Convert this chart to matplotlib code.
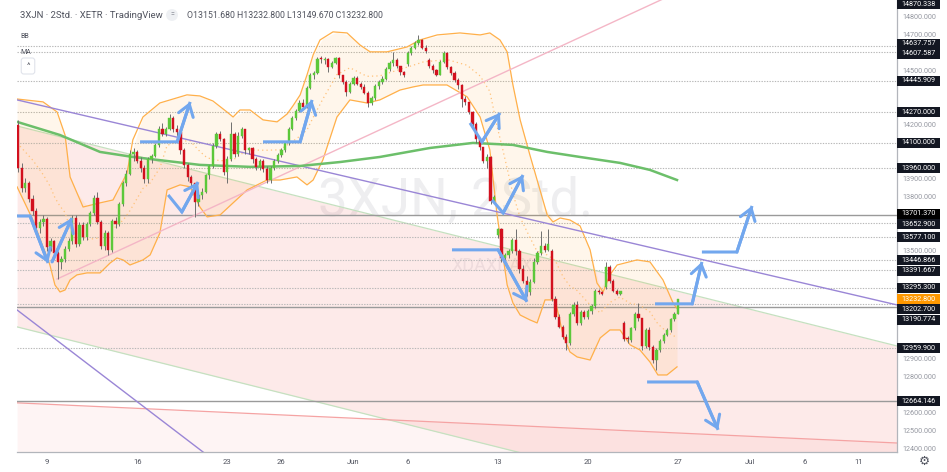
import numpy as np
import matplotlib
matplotlib.use("Agg")
import matplotlib.pyplot as plt
from matplotlib.patches import Rectangle
from matplotlib.transforms import blended_transform_factory

plt.rcParams['font.family'] = ['Roboto', 'DejaVu Sans']

# 2h bars on XETR, 5 bars per trading day, bar 0 = first bar of 9 May
first_bar = -8
opens = [14200, 13960, 13850,
         13880, 13790, 13720, 13630, 13660,
         13680, 13520, 13555, 13490, 13440,
         13455, 13510, 13555, 13685, 13540,
         13645, 13580, 13650, 13710, 13795,
         13660, 13525, 13600, 13505, 13665,
         13650, 13760, 13880, 13930, 14040,
         14050, 14000, 13960, 13900, 14010,
         14030, 14090, 14180, 14150, 14180,
         14240, 14175, 14160, 14060, 13980,
         13910, 13875, 13770, 13810, 13830,
         13920, 13970, 14085, 14150, 14120,
         13940, 14010, 14150, 14040, 14140,
         14175, 14060, 14070, 14010, 13965,
         14000, 13955, 13895, 13960, 14000,
         14035, 14060, 14100, 14180, 14240,
         14280, 14320, 14300, 14405, 14480,
         14490, 14565, 14560, 14565, 14520,
         14545, 14570, 14475, 14440, 14385,
         14430, 14460, 14430, 14410, 14380,
         14320, 14350, 14415, 14440, 14455,
         14510, 14545, 14560, 14525, 14495,
         14540, 14600, 14630, 14655, 14670,
         14630, 14560, 14525, 14505, 14480,
         14550, 14600, 14520, 14490, 14450,
         14420, 14345, 14325, 14270, 14205,
         14120, 14075, 14000, 14020, 13775,
         13590, 13620, 13460, 13480, 13500,
         13560, 13500, 13400, 13335, 13270,
         13330, 13440, 13490, 13530, 13505,
         13500, 13235, 13135, 13080, 13020,
         12990, 13150, 13200, 13100, 13160,
         13135, 13165, 13195, 13280, 13270,
         13300, 13410, 13335, 13280, 13262,
         13100, 13010, 13005, 13070, 13150,
         13125, 12970, 13060, 12965, 12895,
         12950, 13000, 13035, 13060, 13120,
         13151.68]
highs = [14230, 13990, 13905,
         13890, 13810, 13740, 13680, 13700,
         13690, 13570, 13560, 13500, 13470,
         13530, 13570, 13700, 13700, 13660,
         13660, 13660, 13720, 13810, 13830,
         13670, 13615, 13610, 13680, 13690,
         13770, 13890, 13950, 14060, 14070,
         14060, 14020, 13975, 14020, 14040,
         14100, 14195, 14210, 14190, 14260,
         14250, 14200, 14170, 14070, 13990,
         13920, 13880, 13830, 13850, 13930,
         13980, 14100, 14160, 14165, 14130,
         14030, 14215, 14160, 14160, 14190,
         14180, 14080, 14080, 14020, 14010,
         14010, 13970, 13970, 14010, 14045,
         14070, 14110, 14190, 14250, 14290,
         14340, 14345, 14415, 14490, 14500,
         14580, 14585, 14575, 14570, 14555,
         14580, 14575, 14480, 14450, 14440,
         14470, 14470, 14440, 14430, 14390,
         14360, 14425, 14450, 14470, 14520,
         14555, 14605, 14570, 14530, 14500,
         14610, 14640, 14665, 14700, 14680,
         14645, 14570, 14540, 14510, 14560,
         14610, 14605, 14530, 14500, 14460,
         14430, 14360, 14330, 14275, 14215,
         14130, 14080, 14040, 14030, 13810,
         13630, 13630, 13490, 13510, 13570,
         13620, 13510, 13420, 13360, 13345,
         13460, 13500, 13610, 13545, 13620,
         13510, 13250, 13150, 13090, 13040,
         13160, 13215, 13220, 13170, 13170,
         13175, 13205, 13290, 13290, 13280,
         13440, 13420, 13345, 13290, 13280,
         13110, 13030, 13080, 13160, 13210,
         13130, 13070, 13080, 12975, 12960,
         13010, 13045, 13070, 13130, 13160,
         13232.8]
lows = [13940, 13830, 13830,
        13770, 13700, 13610, 13600, 13640,
        13500, 13500, 13470, 13345, 13400,
        13440, 13500, 13540, 13520, 13530,
        13560, 13560, 13640, 13700, 13650,
        13510, 13505, 13480, 13495, 13630,
        13640, 13750, 13860, 13920, 14000,
        13990, 13940, 13880, 13880, 13990,
        14020, 14080, 14140, 14140, 14170,
        14160, 14140, 14040, 13960, 13890,
        13860, 13690, 13750, 13790, 13820,
        13900, 13960, 14070, 14110, 13920,
        13880, 14000, 14020, 14030, 14130,
        14040, 14040, 13990, 13950, 13950,
        13940, 13880, 13880, 13950, 13990,
        14020, 14050, 14090, 14170, 14230,
        14270, 14290, 14295, 14400, 14455,
        14485, 14545, 14540, 14495, 14515,
        14540, 14460, 14430, 14360, 14375,
        14420, 14420, 14400, 14370, 14300,
        14310, 14340, 14400, 14430, 14450,
        14500, 14530, 14515, 14480, 14465,
        14530, 14590, 14620, 14645, 14620,
        14600, 14515, 14490, 14470, 14475,
        14545, 14510, 14480, 14440, 14400,
        14300, 14310, 14260, 14190, 14100,
        14060, 13990, 13960, 13760, 13765,
        13570, 13440, 13440, 13460, 13490,
        13480, 13380, 13320, 13250, 13255,
        13320, 13430, 13480, 13495, 13500,
        13220, 13120, 13070, 13010, 12950,
        12980, 13140, 13090, 13090, 13120,
        13120, 13150, 13185, 13260, 13255,
        13290, 13320, 13270, 13255, 13255,
        13000, 12990, 12995, 13060, 13110,
        12950, 12960, 12950, 12880, 12840,
        12940, 12990, 13025, 13050, 13110,
        13149.67]
closes = [13960, 13850, 13880,
          13790, 13720, 13630, 13660, 13680,
          13520, 13555, 13490, 13440, 13455,
          13510, 13555, 13685, 13540, 13645,
          13580, 13650, 13710, 13795, 13660,
          13525, 13600, 13505, 13665, 13650,
          13760, 13880, 13930, 14040, 14050,
          14000, 13960, 13900, 14010, 14030,
          14090, 14180, 14150, 14180, 14240,
          14175, 14160, 14060, 13980, 13910,
          13875, 13770, 13810, 13830, 13920,
          13970, 14085, 14150, 14120, 13940,
          14010, 14150, 14040, 14140, 14175,
          14060, 14070, 14010, 13965, 14000,
          13955, 13895, 13960, 14000, 14035,
          14060, 14100, 14180, 14240, 14280,
          14320, 14300, 14405, 14480, 14490,
          14565, 14560, 14565, 14520, 14545,
          14570, 14475, 14440, 14385, 14430,
          14460, 14430, 14410, 14380, 14320,
          14350, 14415, 14440, 14455, 14510,
          14545, 14560, 14525, 14495, 14475,
          14600, 14630, 14655, 14670, 14630,
          14610, 14525, 14505, 14480, 14550,
          14600, 14520, 14490, 14450, 14420,
          14345, 14325, 14270, 14205, 14120,
          14075, 14000, 14020, 13775, 13800,
          13620, 13460, 13480, 13500, 13560,
          13500, 13400, 13335, 13270, 13330,
          13440, 13490, 13530, 13505, 13540,
          13235, 13135, 13080, 13020, 12990,
          13150, 13200, 13100, 13160, 13135,
          13165, 13195, 13280, 13270, 13262,
          13410, 13335, 13280, 13262, 13275,
          13010, 13005, 13070, 13150, 13125,
          12970, 13060, 12965, 12895, 12950,
          13000, 13035, 13060, 13120, 13150,
          13232.8]

# Bollinger bands (bar, price)
bb_bars = [-8.3, -1.1, 2.8, 5.0, 6.4, 10.0, 14.7, 18.3, 22.2, 23.8, 26.6, 31.3, 38.8,
           42.4, 46.0, 49.9, 51.6, 53.5, 56.3, 59.9, 63.8, 66.6, 68.2, 70.2, 72.1,
           73.8, 75.7, 79.3, 83.2, 86.8, 89.6, 94.3, 99.8, 103.4, 108.2, 114.5, 120.1,
           122.8, 125.6, 127.6, 129.2, 131.2, 133.9, 136.7, 138.7, 140.3, 142.3, 145.0,
           147.8, 150.6, 152.5, 154.2, 156.1, 158.1, 163.6, 167.2, 170.8, 173.6, 175.0]
bb_upper = [14344, 14328, 14272, 14144, 13911, 13744, 13767, 13783, 13933, 14117, 14244,
            14322, 14367, 14361, 14333, 14272, 14244, 14283, 14283, 14228, 14217, 14261,
            14306, 14367, 14478, 14589, 14672, 14717, 14711, 14644, 14606, 14606, 14633,
            14672, 14700, 14711, 14700, 14711, 14672, 14606, 14422, 14228, 14033, 13839,
            13700, 13661, 13683, 13672, 13639, 13506, 13322, 13272, 13367, 13422, 13450,
            13439, 13339, 13211, 13172]
bb_low_bars = [-8.3, -3.9, -1.1, 0.8, 2.2, 3.6, 5.0, 6.4, 8.3, 11.1, 14.7, 17.5, 19.4,
               21.1, 23.0, 26.6, 28.6, 31.3, 33.3, 36.9, 39.7, 42.4, 44.4, 48.0, 51.6,
               55.5, 61.0, 64.6, 69.3, 72.1, 73.8, 76.5, 80.4, 84.0, 88.7, 92.3, 97.9,
               101.5, 104.3, 110.9, 116.5, 120.1, 122.8, 124.8, 126.2, 127.6, 129.2,
               131.2, 133.9, 135.9, 138.1, 140.9, 143.1, 145.0, 147.0, 150.6, 153.4,
               156.1, 158.9, 161.7, 164.4, 167.2, 169.4, 171.9, 174.7]
bb_lower = [13856, 13672, 13522, 13422, 13311, 13272, 13283, 13339, 13367, 13378, 13378,
            13433, 13461, 13450, 13422, 13450, 13478, 13600, 13839, 13867, 13856, 13744,
            13689, 13700, 13767, 13839, 13894, 13894, 13911, 13867, 13894, 14006, 14244,
            14339, 14322, 14339, 14394, 14411, 14422, 14422, 14356, 14244, 14061, 13700,
            13506, 13311, 13211, 13144, 13117, 13100, 13228, 13228, 13033, 12939, 12911,
            12894, 13017, 13061, 13061, 12978, 12950, 12883, 12811, 12811, 12856]

# moving average (green)
ma_bars = [-8.3, 3.6, 14.7, 23.8, 42.4, 56.3, 70.2, 81.3, 92.3, 106.2, 118.1, 129.2,
           138.7, 147.8, 158.9, 167.2, 174.7]
ma_vals = [14217, 14144, 14050, 14022, 13978, 13967, 13972, 13994, 14022, 14072, 14100,
           14089, 14050, 14022, 13989, 13950, 13894]

# drawings: (bar, price) anchors
channel_top = [(-8.3, 14194), (235.7, 12972)]
channel_bottom = [(-8.3, 13078), (235.7, 11856)]
red_line = [(-8.3, 12656), (235.7, 12433)]
purple_long = [(-8.3, 14339), (235.7, 13200)]
purple_steep = [(-8.3, 13172), (50.0, 12280)]
pink_up = [(2.8, 13344), (173.0, 14920)]

arrow_paths = [
    [(-8.3, 13694), (-4.7, 13694), (0.3, 13433)],
    [(1.4, 13439), (6.9, 13683)],
    [(25.8, 14106), (36.1, 14106), (39.7, 14328)],
    [(33.6, 13811), (37.4, 13717), (41.9, 13883)],
    [(59.9, 14106), (70.2, 14106), (73.5, 14339)],
    [(117.3, 14211), (120.6, 14106), (125.6, 14267)],
    [(123.4, 13783), (126.5, 13711), (132.0, 13922)],
    [(112.3, 13506), (125.1, 13506), (133.1, 13217)],
    [(168.6, 13206), (178.9, 13206), (181.6, 13439)],
    [(181.6, 13494), (191.3, 13494), (195.5, 13750)],
    [(166.4, 12772), (180.3, 12772), (186.1, 12506)],
]

dotted_levels = [14637.757, 14607.587, 14445.909, 14270.0, 14100.0, 13960.0, 13652.9,
                 13577.1, 13446.866, 13391.667, 13295.3, 13202.7, 12959.9]
solid_levels = [13701.37, 13190.774, 12664.146]
label_prices = [14870.338, 14637.757, 14607.587, 14445.909, 14270.0, 14100.0, 13960.0,
                13701.37, 13652.9, 13577.1, 13446.866, 13391.667, 13295.3, 13232.8,
                13202.7, 13190.774, 12959.9, 12664.146]
last_price = 13232.8

tick_bars = [0, 25, 50, 65, 85, 100, 125, 150, 175, 195, 210, 225]
tick_names = ['9', '16', '23', '26', 'Jun', '6', '13', '20', '27', 'Jul', '6', '11']

W, H = 947, 472
ymin, ymax = 12383, 14894
xmin, xmax = -8.32, 235.7

fig = plt.figure(figsize=(W / 100, H / 100), dpi=100)
ax = fig.add_axes([17 / W, 20 / H, 880 / W, 452 / H])
ax.set_xlim(xmin, xmax)
ax.set_ylim(ymin, ymax)

# watermark
ax.text(0.498, 0.556, '3XJN, 2Std.', transform=ax.transAxes, fontsize=38,
        color='#eeeef0', ha='center', va='center', zorder=0.2)
ax.text(0.54, 0.412, 'XDAXDAX', transform=ax.transAxes, fontsize=13,
        color='#eeeef0', ha='center', va='center', zorder=0.2)

# channels
cx = [channel_top[0][0], channel_top[1][0]]
ax.fill_between(cx, [p[1] for p in channel_top], [p[1] for p in channel_bottom],
                color='#ef5350', alpha=0.12, lw=0, zorder=0.5)
ax.plot(cx, [p[1] for p in channel_top], color='#c5e1c0', lw=0.9, zorder=0.6)
ax.plot(cx, [p[1] for p in channel_bottom], color='#c5e1c0', lw=0.9, zorder=0.6)
rx = [red_line[0][0], red_line[1][0]]
ax.fill_between(rx, [p[1] for p in red_line], ymin - 100,
                color='#ef5350', alpha=0.06, lw=0, zorder=0.5)
ax.plot(rx, [p[1] for p in red_line], color='#f5a3a3', lw=0.9, zorder=0.6)

# horizontal levels
for lv in dotted_levels:
    ax.axhline(lv, color='#b8b8b8', lw=0.8, ls=(0, (1.2, 1.2)), zorder=0.7)
for lv in solid_levels:
    ax.axhline(lv, color='#9a9a9a', lw=1.0, zorder=0.7)

# Bollinger bands
up_on_low = np.interp(bb_low_bars, bb_bars, bb_upper)
ax.fill_between(bb_low_bars, up_on_low, bb_lower, color='#ff9800', alpha=0.08, lw=0, zorder=1)
ax.plot(bb_bars, bb_upper, color='#ffb04a', lw=0.9, zorder=1.2)
ax.plot(bb_low_bars, bb_lower, color='#ffb04a', lw=0.9, zorder=1.2)
ax.plot(bb_low_bars, (up_on_low + np.array(bb_lower)) / 2, color='#ffc27a',
        lw=0.9, ls=(0, (1, 2.5)), zorder=1.2)

# trend lines
for line, col in [(purple_long, '#9a86d6'), (purple_steep, '#9a86d6'), (pink_up, '#f4b6c6')]:
    ax.plot([p[0] for p in line], [p[1] for p in line], color=col, lw=1.0, zorder=1.5)

# moving average
ax.plot(ma_bars, ma_vals, color='#6cbf6a', lw=1.8, zorder=1.6)

# candles
x = np.arange(first_bar, first_bar + len(closes))
o = np.array(opens)
c = np.array(closes)
up = c >= o
cols = np.where(up, '#5cc83a', '#d2101e')
ax.vlines(x, lows, highs, color='#6f6f6f', lw=0.7, zorder=2)
body = np.where(np.abs(c - o) < 6, 6, c - o)
ax.bar(x, body, bottom=o, width=0.62, color=cols, edgecolor=cols, lw=0.3, zorder=2.2)

# blue arrows
acol = '#72a7ee'
for path in arrow_paths:
    ax.plot([p[0] for p in path], [p[1] for p in path], color=acol, lw=2.2,
            solid_joinstyle='miter', solid_capstyle='butt', zorder=3)
    ax.annotate('', xy=path[-1], xytext=path[-2], annotation_clip=False,
                arrowprops=dict(arrowstyle='->,head_length=0.8,head_width=0.55',
                                color=acol, lw=2.2, shrinkA=0, shrinkB=0,
                                mutation_scale=10), zorder=3)

# price labels on the scale, spread so they do not overlap
px_per_pt = 452 / (ymax - ymin)
gap = 10.2 / px_per_pt
order = sorted(range(len(label_prices)), key=lambda k: -label_prices[k])
pos = [label_prices[k] for k in order]
fixed = [label_prices[k] == last_price for k in order]
for _ in range(200):
    for j in range(len(pos) - 1):
        d = pos[j] - pos[j + 1]
        if d < gap:
            ov = gap - d
            if fixed[j]:
                pos[j + 1] -= ov
            elif fixed[j + 1]:
                pos[j] += ov
            else:
                pos[j] += ov / 2
                pos[j + 1] -= ov / 2

# axes styling
for s in ['top', 'left']:
    ax.spines[s].set_visible(False)
for s in ['right', 'bottom']:
    ax.spines[s].set_color('#b2b5bb')
    ax.spines[s].set_linewidth(0.9)
ax.set_xticks(tick_bars)
ax.set_xticklabels(tick_names)
ax.tick_params(axis='x', length=0, pad=5, labelsize=5.5, labelcolor='#50535e')
ax.yaxis.tick_right()
# scale ticks every 100 points; the ones hidden behind a price label are left out
yt = [v for v in range(12400, 14801, 100)
      if all(abs(v - p) > 8.8 / px_per_pt for p in pos)]
ax.set_yticks(yt)
ax.set_yticklabels([f'{v:.3f}' for v in yt])
ax.tick_params(axis='y', length=0, pad=4, labelsize=5.2, labelcolor='#9598a1')

trans = blended_transform_factory(ax.transAxes, ax.transData)
bw = 43 / 880
for k, yp in zip(order, pos):
    val = label_prices[k]
    if val == last_price:
        fc = '#ff9800'
    elif val == 13701.37:
        fc = '#000000'
    else:
        fc = '#131722'
    ax.add_patch(Rectangle((1.0, yp - gap / 2), bw, gap * 0.98, transform=trans,
                           fc=fc, ec='none', clip_on=False, zorder=5))
    ax.text(1.0 + bw / 2, yp, f'{val:.3f}', transform=trans, ha='center', va='center',
            fontsize=5.2, color='white', clip_on=False, zorder=6)

# header
fig.text(20 / W, 1 - 15 / H, '3XJN · 2Std. · XETR · TradingView', fontsize=6.8,
         color='#50535e', va='center')
fig.text(172 / W, 1 - 15 / H, '=', fontsize=5, color='#787b86', va='center', ha='center',
         bbox=dict(boxstyle='circle,pad=0.35', fc='#eef0f3', ec='none'))
fig.text(187 / W, 1 - 15 / H, 'O13151.680 H13232.800 L13149.670 C13232.800', fontsize=6.3,
         color='#50535e', va='center')
fig.text(20 / W, 1 - 36 / H, 'BB', fontsize=5, color='#50535e', va='center')
fig.text(20 / W, 1 - 52 / H, 'MA', fontsize=5, color='#50535e', va='center')
fig.text(28 / W, 1 - 66 / H, '^', fontsize=6, color='#50535e', va='center', ha='center',
         bbox=dict(boxstyle='round,pad=0.6,rounding_size=0.3', fc='white', ec='#e0e3eb', lw=0.8))
fig.text(924 / W, 1 - 461 / H, '⚙', fontsize=9, color='#50535e', va='center', ha='center',
         family='DejaVu Sans')

fig.savefig('out.png', dpi=100, facecolor='white')
